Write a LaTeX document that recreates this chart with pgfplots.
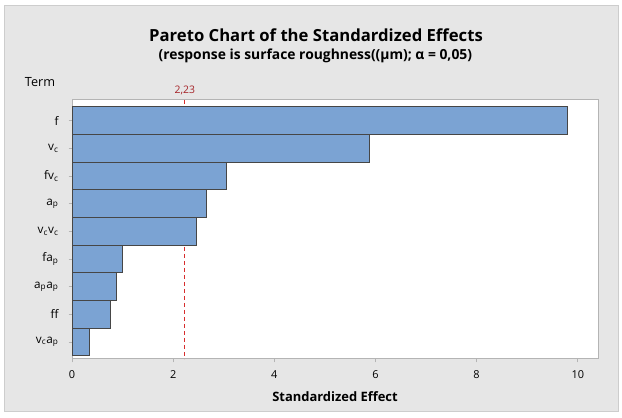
\documentclass[border=0pt]{standalone}
\usepackage{pgfplots}
\pgfplotsset{compat=1.18}
\usepackage{fontspec}
\setmainfont{Open Sans}

\definecolor{bgframe}{RGB}{230,230,230}
\definecolor{bgedge}{RGB}{205,205,205}
\definecolor{barfill}{RGB}{123,163,211}
\definecolor{baredge}{RGB}{70,70,70}
\definecolor{axisgray}{RGB}{180,180,180}
\definecolor{refred}{RGB}{215,45,45}
\definecolor{reftext}{RGB}{165,35,40}

\begin{document}
\begin{tikzpicture}
% page is 622x418 px, 1px = 0.75pt
\useasboundingbox (0,0) rectangle (466.5pt,313.5pt);
\fill[white] (0,0) rectangle (466.5pt,313.5pt);
\filldraw[fill=bgframe, draw=bgedge, line width=0.75pt] (3pt,4.5pt) rectangle (463.5pt,309pt);

\node[anchor=base, font=\bfseries\fontsize{12.5}{14}\selectfont] at (237pt,282pt)
  {Pareto Chart of the Standardized Effects};
\node[anchor=base, font=\bfseries\fontsize{10.4}{12}\selectfont] at (236.5pt,268.5pt)
  {(response is surface roughness((µm); α = 0,05)};
\node[anchor=base, font=\fontsize{9.5}{11}\selectfont] at (30pt,248.25pt) {Term};
\node[anchor=base, font=\bfseries\fontsize{9.7}{11}\selectfont] at (251.25pt,12pt) {Standardized Effect};

\begin{axis}[
  at={(54pt,44.25pt)}, anchor=south west,
  width=394.5pt, height=194.25pt, scale only axis, clip=false,
  xmin=0, xmax=10.4, ymin=0.39, ymax=9.75,
  axis background/.style={fill=white},
  axis line style={axisgray, line width=0.75pt},
  xtick={0,2,...,10}, ytick={1,...,9},
  yticklabels={v\textsubscript{c}a\textsubscript{p}, ff, a\textsubscript{p}a\textsubscript{p},
    fa\textsubscript{p}, v\textsubscript{c}v\textsubscript{c}, a\textsubscript{p},
    fv\textsubscript{c}, v\textsubscript{c}, f},
  tick align=outside, major tick length=2.5pt,
  tick style={axisgray, line width=0.6pt},
  xtick pos=bottom, ytick pos=left,
  /pgf/number format/assume math mode=true,
  tick label style={font=\fontsize{8.2}{9}\selectfont, text=black},
  xticklabel style={yshift=-2.5pt},
  yticklabel style={xshift=-4pt, font=\fontsize{8.8}{10}\selectfont},
]
\addplot[refred, line width=0.75pt, dash pattern=on 3pt off 2.25pt] coordinates {(2.23,9.75) (2.23,0.39)}
  node[pos=0, above, yshift=0pt, font=\fontsize{7.8}{9}\selectfont, text=reftext] {2,23};
\addplot[xbar, bar width=1, fill=barfill, draw=baredge, line width=0.75pt] coordinates {
  (0.34,1) (0.77,2) (0.88,3) (0.99,4) (2.46,5) (2.66,6) (3.06,7) (5.89,8) (9.80,9)};
\end{axis}
\end{tikzpicture}
\end{document}
